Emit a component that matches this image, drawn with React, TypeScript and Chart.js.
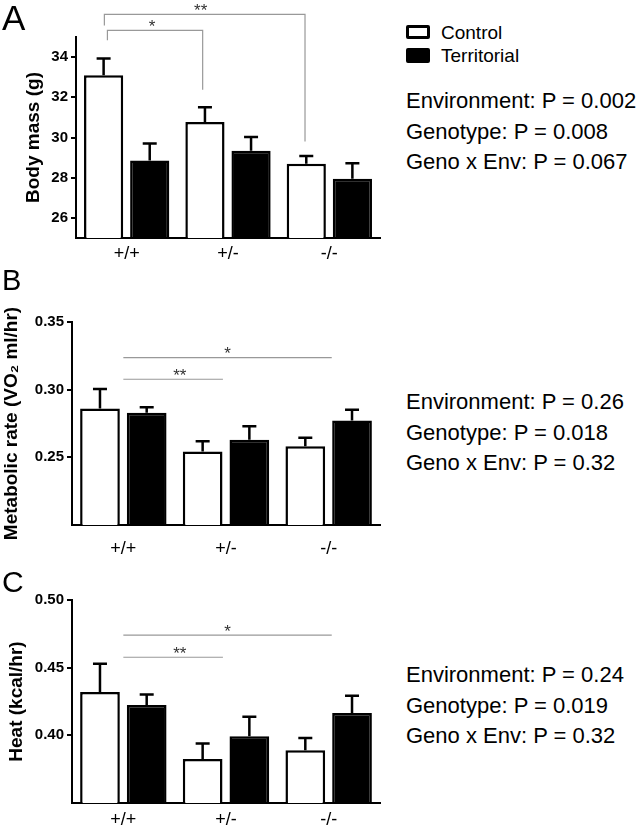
import React, { useEffect, useRef } from 'react';
import { Chart, registerables } from 'chart.js';

Chart.register(...registerables);

const FONT = '"Liberation Sans", Arial, Helvetica, sans-serif';

// ---------- data ----------
const genotypes = ['+/+', '+/-', '-/-'];
const seriesNames = ['Control', 'Territorial'];

const massControl = [33.1, 30.77, 28.7];
const massControlErr = [0.83, 0.73, 0.38];
const massTerritorial = [28.85, 29.34, 27.95];
const massTerritorialErr = [0.85, 0.68, 0.77];
const massTicks = [26, 28, 30, 32, 34];

const metabControl = [0.286, 0.2544, 0.2581];
const metabControlErr = [0.0145, 0.0074, 0.0064];
const metabTerritorial = [0.283, 0.263, 0.2773];
const metabTerritorialErr = [0.004, 0.0099, 0.0079];
const metabTicks = [0.25, 0.3, 0.35];

const heatControl = [0.432, 0.3826, 0.3889];
const heatControlErr = [0.0209, 0.0113, 0.0091];
const heatTerritorial = [0.4224, 0.3993, 0.4165];
const heatTerritorialErr = [0.0078, 0.0145, 0.0128];
const heatTicks = [0.4, 0.45, 0.5];

const massStats = ['Environment: P = 0.002', 'Genotype: P = 0.008', 'Geno x Env: P = 0.067'];
const metabStats = ['Environment: P = 0.26', 'Genotype: P = 0.018', 'Geno x Env: P = 0.32'];
const heatStats = ['Environment: P = 0.24', 'Genotype: P = 0.019', 'Geno x Env: P = 0.32'];

type Bracket = { x1: number; x2: number; top: number; leg1?: number; leg2?: number; starX: number; stars: string };

const massBrackets: Bracket[] = [
  { x1: -0.22, x2: 1.76, top: 36.13, leg1: 35.57, leg2: 29.8, starX: 0.73, stars: '**' },
  { x1: -0.19, x2: 0.75, top: 35.33, leg1: 34.84, leg2: 32.38, starX: 0.25, stars: '*' },
];
const metabBrackets: Bracket[] = [
  { x1: 0, x2: 2.03, top: 0.3237, starX: 1.016, stars: '*' },
  { x1: 0, x2: 0.97, top: 0.3077, starX: 0.55, stars: '**' },
];
const heatBrackets: Bracket[] = [
  { x1: 0, x2: 2.03, top: 0.474, starX: 1.016, stars: '*' },
  { x1: 0, x2: 0.97, top: 0.4577, starX: 0.55, stars: '**' },
];

// ---------- panels (layout) ----------
type Panel = {
  letter: string; letterSize: number; letterBase: number;
  top: number; height: number; padTop: number; yAxisWidth: number; xAxisHeight: number; xPad: number;
  min: number; max: number; ticks: number[]; decimals: number;
  title: string; titlePad: number;
  control: number[]; controlErr: number[]; terr: number[]; terrErr: number[];
  brackets: Bracket[]; stats: string[]; statsBase: number;
};

const panels: Panel[] = [
  {
    letter: 'A', letterSize: 35, letterBase: 30,
    top: 0, height: 265, padTop: 37, yAxisWidth: 76, xAxisHeight: 27, xPad: 5,
    min: 25, max: 35, ticks: massTicks, decimals: 0,
    title: 'Body mass (g)', titlePad: 22,
    control: massControl, controlErr: massControlErr, terr: massTerritorial, terrErr: massTerritorialErr,
    brackets: massBrackets, stats: massStats, statsBase: 109,
  },
  {
    letter: 'B', letterSize: 29, letterBase: 291,
    top: 260, height: 300, padTop: 62, yAxisWidth: 72, xAxisHeight: 35, xPad: 13,
    min: 0.2, max: 0.35, ticks: metabTicks, decimals: 2,
    title: 'Metabolic rate (VO\u2082 ml/hr)', titlePad: 0,
    control: metabControl, controlErr: metabControlErr, terr: metabTerritorial, terrErr: metabTerritorialErr,
    brackets: metabBrackets, stats: metabStats, statsBase: 410,
  },
  {
    letter: 'C', letterSize: 30, letterBase: 592,
    top: 560, height: 273, padTop: 40, yAxisWidth: 72, xAxisHeight: 30, xPad: 6,
    min: 0.35, max: 0.5, ticks: heatTicks, decimals: 2,
    title: 'Heat (kcal/hr)', titlePad: 5,
    control: heatControl, controlErr: heatControlErr, terr: heatTerritorial, terrErr: heatTerritorialErr,
    brackets: heatBrackets, stats: heatStats, statsBase: 682.7,
  },
];

const errorBarPlugin = {
  id: 'errorBars',
  afterDatasetsDraw(chart: any) {
    const ctx = chart.ctx;
    const y = chart.scales.y;
    chart.data.datasets.forEach((ds: any, i: number) => {
      const meta = chart.getDatasetMeta(i);
      meta.data.forEach((el: any, j: number) => {
        const topPx = y.getPixelForValue(ds.data[j] + ds.errors[j]);
        ctx.save();
        ctx.strokeStyle = '#000';
        ctx.lineWidth = 2.5;
        ctx.beginPath();
        ctx.moveTo(el.x, el.y);
        ctx.lineTo(el.x, topPx);
        ctx.moveTo(el.x - 7, topPx);
        ctx.lineTo(el.x + 7, topPx);
        ctx.stroke();
        ctx.restore();
      });
    });
  },
};

function bracketPlugin(brackets: Bracket[]) {
  return {
    id: 'brackets',
    afterDraw(chart: any) {
      const ctx = chart.ctx;
      const xs = chart.scales.x;
      const ys = chart.scales.y;
      ctx.save();
      brackets.forEach((b) => {
        const x1 = xs.getPixelForValue(b.x1);
        const x2 = xs.getPixelForValue(b.x2);
        const yt = ys.getPixelForValue(b.top);
        ctx.strokeStyle = '#999';
        ctx.lineWidth = 1.2;
        ctx.beginPath();
        if (b.leg1 !== undefined) {
          ctx.moveTo(x1, ys.getPixelForValue(b.leg1));
          ctx.lineTo(x1, yt);
        } else {
          ctx.moveTo(x1, yt);
        }
        ctx.lineTo(x2, yt);
        if (b.leg2 !== undefined) ctx.lineTo(x2, ys.getPixelForValue(b.leg2));
        ctx.stroke();
        ctx.fillStyle = '#333';
        ctx.font = `17px ${FONT}`;
        ctx.textAlign = 'center';
        ctx.textBaseline = 'alphabetic';
        ctx.fillText(b.stars, xs.getPixelForValue(b.starX), yt + 1.5);
      });
      ctx.restore();
    },
  };
}

function buildConfig(p: Panel): any {
  const barCommon = { borderColor: '#000', borderWidth: 2.5, borderSkipped: false, barPercentage: 0.85, categoryPercentage: 0.91 };
  return {
    type: 'bar',
    data: {
      labels: genotypes,
      datasets: [
        { label: seriesNames[0], data: p.control, errors: p.controlErr, backgroundColor: '#fff', ...barCommon },
        { label: seriesNames[1], data: p.terr, errors: p.terrErr, backgroundColor: '#000', ...barCommon },
      ],
    },
    options: {
      animation: false,
      responsive: false,
      maintainAspectRatio: false,
      layout: { padding: { top: p.padTop, right: 10, left: 0, bottom: 0 } },
      plugins: { legend: { display: false }, tooltip: { enabled: false } },
      scales: {
        x: {
          grid: { display: false, drawTicks: false },
          border: { display: true, color: '#000', width: 2 },
          ticks: { color: '#000', font: { family: FONT, size: 18 }, padding: p.xPad, maxRotation: 0 },
          afterFit: (s: any) => { s.height = p.xAxisHeight; },
        },
        y: {
          min: p.min,
          max: p.max,
          afterBuildTicks: (s: any) => { s.ticks = p.ticks.map((v) => ({ value: v })); },
          grid: { drawOnChartArea: false, drawTicks: true, tickLength: 5, color: '#000', lineWidth: 2 },
          border: { display: true, color: '#000', width: 2 },
          ticks: {
            color: '#000',
            font: { family: FONT, size: 15, weight: 'bold' },
            padding: 3,
            callback: (v: any) => Number(v).toFixed(p.decimals),
          },
          title: {
            display: true,
            text: p.title,
            color: '#000',
            font: { family: FONT, size: 19, weight: 'bold' },
            padding: { top: p.titlePad, bottom: 0 },
          },
          afterFit: (s: any) => { s.width = p.yAxisWidth; },
        },
      },
    },
    plugins: [errorBarPlugin, bracketPlugin(p.brackets)],
  };
}

function PanelChart({ p }: { p: Panel }) {
  const ref = useRef<HTMLCanvasElement | null>(null);
  useEffect(() => {
    if (!ref.current) return;
    const chart = new Chart(ref.current, buildConfig(p));
    return () => chart.destroy();
  }, [p]);
  return (
    <canvas
      ref={ref}
      width={390}
      height={p.height}
      style={{ position: 'absolute', left: 0, top: p.top, width: 390, height: p.height }}
    />
  );
}

function TextAt({ text, x, base, size, weight }: { text: string; x: number; base: number; size: number; weight?: string }) {
  return (
    <div
      style={{
        position: 'absolute',
        left: x,
        top: base - 0.8465 * size,
        fontSize: size,
        lineHeight: `${size}px`,
        fontFamily: FONT,
        fontWeight: (weight as any) || 'normal',
        whiteSpace: 'nowrap',
        color: '#000',
      }}
    >
      {text}
    </div>
  );
}

export default function App() {
  return (
    <div style={{ position: 'absolute', left: 0, top: 0, width: 640, height: 833, background: '#fff', overflow: 'hidden' }}>
      {panels.map((p) => (
        <React.Fragment key={p.letter}>
          <PanelChart p={p} />
          <TextAt text={p.letter} x={2} base={p.letterBase} size={p.letterSize} />
          {p.stats.map((s, i) => (
            <TextAt key={s} text={s} x={406} base={p.statsBase + i * 30.5} size={22} />
          ))}
        </React.Fragment>
      ))}
      {/* legend */}
      <div style={{ position: 'absolute', left: 406, top: 25, width: 24, height: 14, boxSizing: 'border-box', border: '3px solid #000', borderRadius: 2, background: '#fff' }} />
      <div style={{ position: 'absolute', left: 406, top: 48, width: 24, height: 15, boxSizing: 'border-box', border: '3px solid #000', borderRadius: 2, background: '#000' }} />
      <TextAt text={seriesNames[0]} x={441} base={39} size={19} />
      <TextAt text={seriesNames[1]} x={441} base={62.5} size={19} />
    </div>
  );
}
